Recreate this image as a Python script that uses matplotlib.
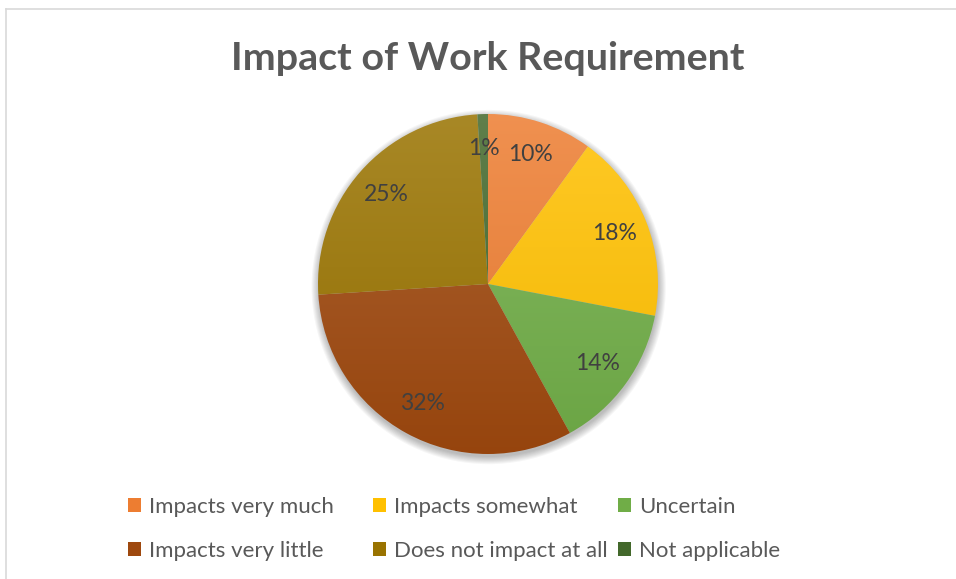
import numpy as np
import matplotlib
matplotlib.use("Agg")
import matplotlib.pyplot as plt
from matplotlib.patches import Patch, Circle
from matplotlib.lines import Line2D
from matplotlib.colors import to_rgb

plt.rcParams['font.family'] = ['Lato', 'DejaVu Sans']

categories = ["Impacts very much", "Impacts somewhat", "Uncertain",
              "Impacts very little", "Does not impact at all", "Not applicable"]
shares = [10, 18, 14, 32, 25, 1]
colors = ["#ED7D31", "#FFC000", "#70AD47", "#9E480E", "#997300", "#43682B"]

W, H = 956, 579
fig = plt.figure(figsize=(W / 100, H / 100), dpi=100)

# chart-area frame (top and left edge visible)
fig.add_artist(Line2D([6 / W, 6 / W], [0, 1 - 9 / H], transform=fig.transFigure,
                      color="#d9d9d9", lw=1.2))
fig.add_artist(Line2D([6 / W, 1], [1 - 9 / H, 1 - 9 / H], transform=fig.transFigure,
                      color="#d9d9d9", lw=1.2))

fig.text(488 / W, 1 - 58 / H, "Impact of Work Requirement", ha="center", va="center",
         fontsize=28.4, fontweight="bold", color="#595959")

# pie axes: centre (488, 284) px, radius 170 px, limits +-1.1
cx, cy, r = 488, 284, 170
half = r * 1.1
ax = fig.add_axes([(cx - half) / W, (H - cy - half) / H, 2 * half / W, 2 * half / H])
ax.set_xlim(-1.1, 1.1)
ax.set_ylim(-1.1, 1.1)
ax.set_aspect("equal")
ax.axis("off")

# soft drop shadow under the pie
for k in range(8):
    ax.add_patch(Circle((0.004, -0.018), 1.0 + 0.006 * k, color="black",
                        alpha=0.035, lw=0, zorder=0))

wedges, texts, autotexts = ax.pie(
    shares, colors=colors, startangle=90, counterclock=False, radius=1.0,
    autopct=lambda p: f"{p:.0f}%", pctdistance=0.8,
    textprops=dict(fontsize=16.5, color="#404040"),
    wedgeprops=dict(linewidth=0))


def shade(c, f):
    c = np.array(to_rgb(c))
    if f >= 0:
        return c + (1 - c) * f
    return c * (1 + f)


# vertical gradient fill per slice, lighter at the top
ys = np.linspace(0, 1, 256)[:, None]
for w, c in zip(wedges, colors):
    top, bot = shade(c, 0.15), shade(c, -0.05)
    grad = top[None, :] * (1 - ys) + bot[None, :] * ys
    img = ax.imshow(grad[:, None, :], extent=(-1, 1, -1, 1), origin="upper",
                    aspect="auto", zorder=1, interpolation="bilinear")
    img.set_clip_path(w)
    w.set_facecolor("none")
for t in autotexts:
    t.set_zorder(3)
ax.set_xlim(-1.1, 1.1)
ax.set_ylim(-1.1, 1.1)

# legend: three columns of two rows
handles = [Patch(facecolor=c, edgecolor="none") for c in colors]
col_x = [128, 373, 618]
for j in range(3):
    idx = [j, j + 3]
    fig.legend([handles[i] for i in idx], [categories[i] for i in idx],
               loc="upper left", bbox_to_anchor=(col_x[j] / W, 1 - 497 / H),
               frameon=False, fontsize=16, labelcolor="#595959",
               handlelength=0.58, handleheight=0.58, handletextpad=0.38,
               labelspacing=1.06, borderpad=0, borderaxespad=0)

fig.savefig("out.png", dpi=100)
